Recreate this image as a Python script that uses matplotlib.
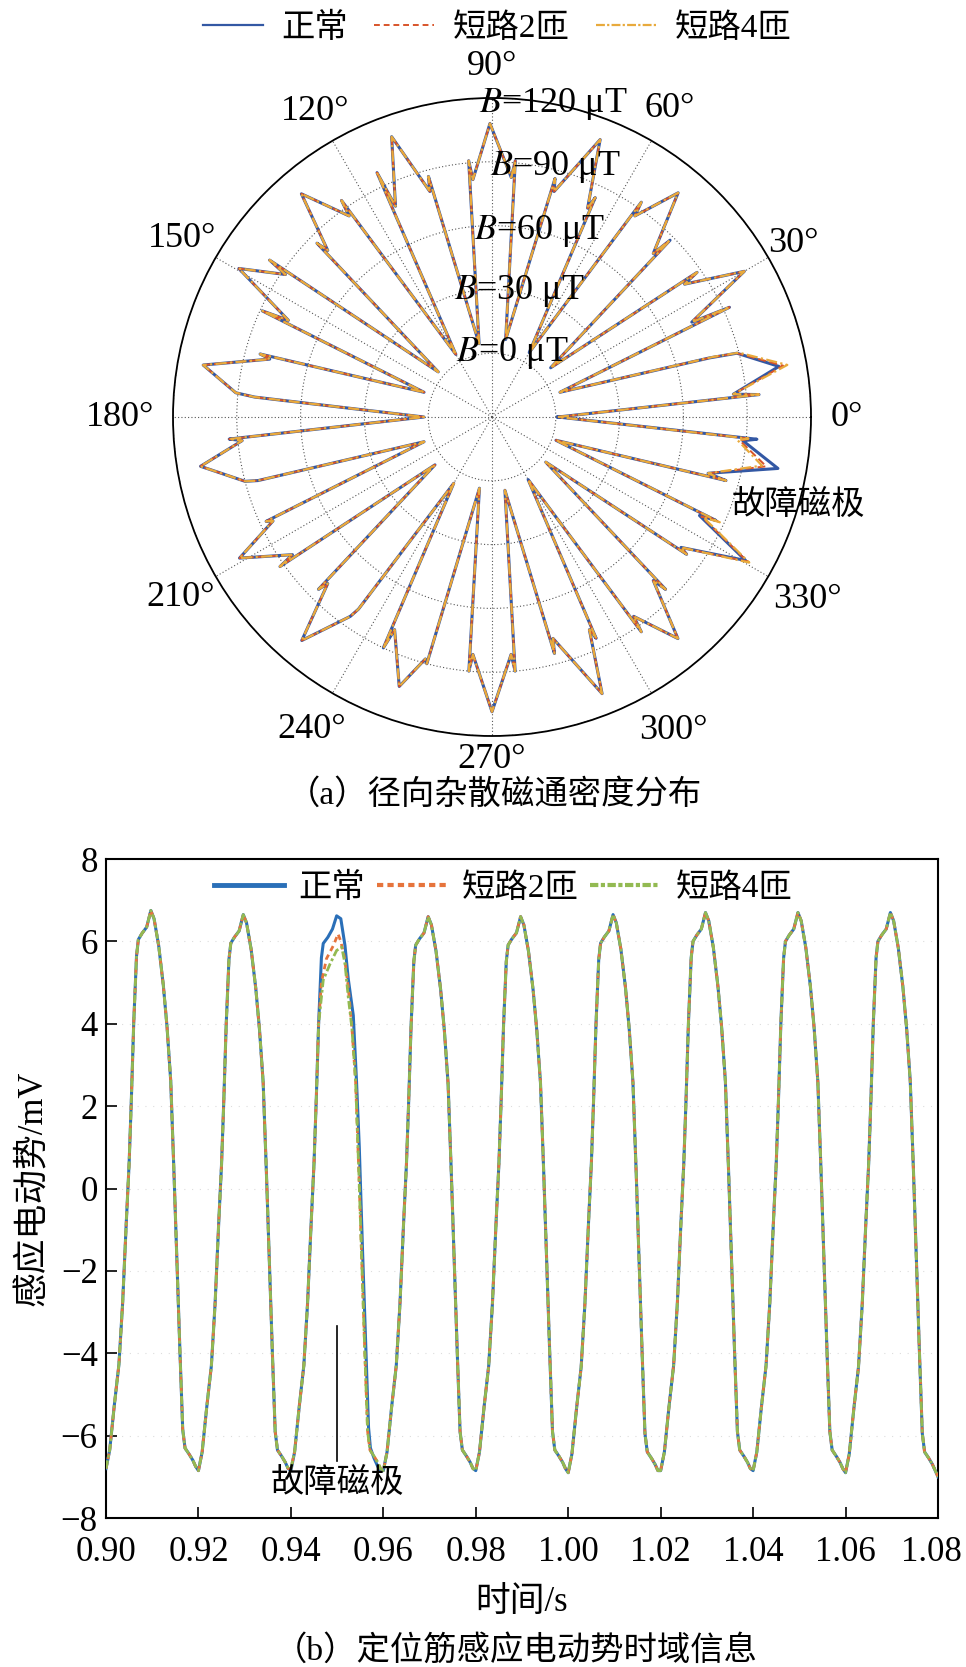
import numpy as np
import matplotlib
matplotlib.use('Agg')
import matplotlib.pyplot as plt
from matplotlib.lines import Line2D
from matplotlib.transforms import ScaledTranslation

plt.rcParams['font.family'] = ['Liberation Serif', 'Noto Sans CJK SC']
plt.rcParams['mathtext.fontset'] = 'stix'
plt.rcParams['axes.unicode_minus'] = True

# ---------------- data: (a) radial stray flux density (μT) ----------------
series_names = ['正常', '短路2匝', '短路4匝']
petal_center = [10, 30, 50, 70, 90, 110, 130, 150, 170, 190, 210, 230, 250, 270, 290, 310, 330, 350]
valley_B = [1, 4, 6, 5, 7, 5, 4, 3, 4, 2, 4, 5, 6, 4, 5, 4, 3, 2]
shoulder_a = [96, 93, 88, 84, 91, 87, 94, 98, 83, 94, 87, 85, 90, 90, 85, 93, 82, 84]
notch_a = [84, 74, 78, 78, 83, 80, 86, 88, 78, 88, 84, 80, 80, 82, 78, 85, 78, 75]
tip_offset = [0, 0, 0.3, -1.3, 0.4, -0.3, 0.5, -0.4, -0.2, -0.4, -0.8, -0.4, 1.0, 0, 1.7, 0, 0.5, -0.2]
peak_normal = [107, 107, 107, 110, 108, 110, 108, 108, 108, 109, 106, 108, 104, 108.6, 110, 106, 107, 106.6]
peak_short2 = [109, 107, 107, 110, 108, 110, 108, 108, 108, 109, 106, 108, 104, 108.6, 110, 106, 108, 101]
peak_short4 = [111, 107, 107, 110, 108, 110, 108, 108, 108, 109, 106, 108, 104, 108.6, 110, 106, 109, 99]
notch_b_normal = [89, 80, 86, 80, 82, 79, 80, 76, 91, 90, 84, 85, 88, 82, 80, 78, 78, 88.5]
notch_b_short2 = [89, 80, 86, 80, 82, 79, 80, 76, 91, 90, 84, 85, 88, 82, 80, 78, 79, 87]
notch_b_short4 = [90, 80, 86, 80, 82, 79, 80, 76, 91, 90, 84, 85, 88, 82, 80, 78, 80, 86]
shoulder_b_normal = [76, 88, 93, 86, 91, 97, 86, 89, 82, 84, 92, 80, 90, 90, 85, 85, 86, 95]
shoulder_b_short2 = [77, 88, 93, 86, 91, 97, 86, 89, 82, 84, 92, 80, 90, 90, 85, 85, 87, 92]
shoulder_b_short4 = [78, 88, 93, 86, 91, 97, 86, 89, 82, 84, 92, 80, 90, 90, 85, 85, 88, 91]
ring_values = [0, 30, 60, 90, 120]
ring_labels = ['$B$=0 μT', '$B$=30 μT', '$B$=60 μT', '$B$=90 μT', '$B$=120 μT']
angle_ticks = [0, 30, 60, 90, 120, 150, 180, 210, 240, 270, 300, 330]

# ---------------- data: (b) induced EMF (mV) ----------------
t_first = 0.90
n_periods = 9
period_len = 0.02
tpl_phase = [0.0000, 0.0008, 0.0018, 0.0028, 0.0036, 0.0044, 0.0050, 0.0055, 0.0060,
             0.0066, 0.0070, 0.0078, 0.0088, 0.0097, 0.0104, 0.0114, 0.0124, 0.0132,
             0.0140, 0.0147, 0.0154, 0.0160, 0.0166, 0.0171, 0.0180, 0.0188, 0.0194]
tpl_value = [-6.85, -6.4, -5.3, -4.3, -2.8, -0.8, 0.6, 2.2, 4.0,
             5.6, 6.0, 6.15, 6.3, 6.7, 6.5, 5.85, 4.9, 3.9,
             2.6, 0.4, -2.0, -4.0, -5.9, -6.35, -6.5, -6.65, -6.8]
peak_blue = [6.75, 6.65, 6.6, 6.6, 6.6, 6.65, 6.7, 6.7, 6.7]
peak_red = [6.75, 6.65, 6.15, 6.6, 6.6, 6.65, 6.7, 6.7, 6.7]
peak_green = [6.75, 6.65, 5.9, 6.6, 6.6, 6.65, 6.7, 6.7, 6.7]
trough_vals = [-6.8, -6.85, -6.85, -6.85, -6.85, -6.9, -6.85, -6.85, -6.9]
end_value = -7.0
fault_period = 2
fault_phase_blue = [0.0000, 0.0008, 0.0018, 0.0028, 0.0036, 0.0044, 0.0050, 0.0055, 0.0060,
                    0.0066, 0.0070, 0.0080, 0.0090, 0.0099, 0.0108, 0.0117, 0.0124, 0.0135,
                    0.0142, 0.0148, 0.0155, 0.0162, 0.0168, 0.0172, 0.0180, 0.0188, 0.0194]
fault_value_blue = [-6.85, -6.4, -5.3, -4.3, -2.8, -0.8, 0.6, 2.2, 4.0,
                    5.6, 5.95, 6.1, 6.3, 6.62, 6.55, 5.9, 5.1, 4.2,
                    2.6, 1.0, -1.5, -3.8, -5.8, -6.3, -6.55, -6.75, -6.85]
fault_phase_red = [0.0000, 0.0008, 0.0018, 0.0028, 0.0036, 0.0044, 0.0050, 0.0055, 0.0060,
                   0.0066, 0.0077, 0.0092, 0.0102, 0.0108, 0.0116, 0.0124, 0.0132, 0.0140,
                   0.0147, 0.0154, 0.0160, 0.0166, 0.0171, 0.0180, 0.0188, 0.0194]
fault_value_red = [-6.8, -6.4, -5.3, -4.3, -2.8, -0.8, 0.6, 2.2, 4.0,
                   5.0, 5.58, 5.9, 6.18, 6.0, 5.6, 4.9, 3.9, 2.6,
                   0.4, -2.0, -4.0, -5.9, -6.35, -6.5, -6.65, -6.8]
fault_phase_green = [0.0000, 0.0008, 0.0018, 0.0028, 0.0036, 0.0044, 0.0050, 0.0055, 0.0060,
                     0.0070, 0.0085, 0.0099, 0.0110, 0.0117, 0.0124, 0.0132, 0.0140,
                     0.0147, 0.0154, 0.0160, 0.0166, 0.0171, 0.0180, 0.0188, 0.0194]
fault_value_green = [-6.8, -6.4, -5.3, -4.3, -2.8, -0.8, 0.6, 2.2, 4.0,
                     5.06, 5.46, 5.78, 5.86, 5.46, 4.66, 3.9, 2.6,
                     0.4, -2.0, -4.0, -5.9, -6.35, -6.5, -6.65, -6.8]
x_ticks = [0.90, 0.92, 0.94, 0.96, 0.98, 1.00, 1.02, 1.04, 1.06, 1.08]
y_ticks = [-8, -6, -4, -2, 0, 2, 4, 6, 8]

# ---------------- helpers ----------------
def petal_curve(peaks, notch_b, shoulder_b):
    th, rr = [], []
    for i, c in enumerate(petal_center):
        th += [c - 10, c - 5.2, c - 4.6, c + tip_offset[i], c + 4.6, c + 5.2]
        rr += [valley_B[i], shoulder_a[i], notch_a[i], peaks[i], notch_b[i], shoulder_b[i]]
    th.append(360)
    rr.append(valley_B[0])
    return np.deg2rad(th), np.array(rr)


def emf_curve(peaks, f_phase, f_value):
    tt, vv = [], []
    pos_ref = max(tpl_value)
    neg_ref = -min(tpl_value)
    for k in range(n_periods):
        t0 = t_first + k * period_len
        if k == fault_period:
            tt += [t0 + p for p in f_phase]
            vv += list(f_value)
            continue
        for p, v in zip(tpl_phase, tpl_value):
            tt.append(t0 + p)
            vv.append(v * peaks[k] / pos_ref if v > 0 else v * (-trough_vals[k]) / neg_ref)
    tt.append(t_first + n_periods * period_len)
    vv.append(end_value)
    return np.array(tt), np.array(vv)


W, H = 966, 1667
fig = plt.figure(figsize=(W / 100, H / 100), dpi=100)

# ---------------- (a) polar ----------------
cx, cy, R = 492, 417, 319
r_min, r_max = -30, 120
axp = fig.add_axes([(cx - R) / W, (H - cy - R) / H, 2 * R / W, 2 * R / H], projection='polar')
axp.set_ylim(r_min, r_max)
axp.set_yticks(ring_values)
axp.set_yticklabels([])
axp.set_thetagrids(angle_ticks, labels=[''] * len(angle_ticks))
axp.grid(True, linestyle=(0, (1, 2)), color='#555555', linewidth=0.8)
axp.spines['polar'].set_linewidth(1.3)

# angle labels placed by hand (distance of label centre from the pole, in pixels)
label_radius_px = [355, 348, 356, 351, 353, 358, 372, 360, 361, 342, 362, 364]
for a, rp in zip(angle_ticks, label_radius_px):
    axp.text(np.deg2rad(a), r_min + rp / R * (r_max - r_min), f'{a}°',
             ha='center', va='center', fontsize=26, clip_on=False)

polar_colors = ['#3358a4', '#d8542a', '#e8aa3c']
th, rr = petal_curve(peak_normal, notch_b_normal, shoulder_b_normal)
axp.plot(th, rr, color=polar_colors[0], lw=2.2, zorder=3)
th, rr = petal_curve(peak_short2, notch_b_short2, shoulder_b_short2)
axp.plot(th, rr, color=polar_colors[1], lw=1.4, ls=(0, (4, 2)), zorder=4)
th, rr = petal_curve(peak_short4, notch_b_short4, shoulder_b_short4)
axp.plot(th, rr, color=polar_colors[2], lw=1.6, ls=(0, (5, 1.5, 1, 1.5)), zorder=5)

label_dx = [20, 27, 47, 63, 61]
label_dy = [0, -2, -5, -5, -6]
for rv, lab, dx, dy in zip(ring_values, ring_labels, label_dx, label_dy):
    axp.annotate(lab, xy=(np.pi / 2, rv), xytext=(dx * 0.72, dy * 0.72), textcoords='offset points',
                 ha='center', va='center', fontsize=26, zorder=10)

fig.text(798 / W, 1 - 505 / H, '故障磁极', ha='center', va='center', fontsize=24)
fig.text(494 / W, 1 - 795 / H, '（a）径向杂散磁通密度分布', ha='center', va='center', fontsize=24)

handles_a = [Line2D([], [], color=polar_colors[0], lw=1.6),
             Line2D([], [], color=polar_colors[1], lw=1.4, ls=(0, (3, 2))),
             Line2D([], [], color=polar_colors[2], lw=1.6, ls=(0, (4, 1, 1, 1)))]
fig.legend(handles_a, series_names, loc='center', bbox_to_anchor=(0.5145, 1 - 28 / H), ncol=3,
           frameon=False, fontsize=24, handlelength=1.8, handletextpad=0.55, columnspacing=0.8)

# ---------------- (b) time domain ----------------
axl, axr, axt, axb = 106, 938, 859, 1518
ax = fig.add_axes([axl / W, (H - axb) / H, (axr - axl) / W, (axb - axt) / H])
line_colors = ['#2a6fb8', '#e6743c', '#93ba52']
t, v = emf_curve(peak_blue, fault_phase_blue, fault_value_blue)
ax.plot(t, v, color=line_colors[0], lw=2.2, zorder=3)
t, v = emf_curve(peak_red, fault_phase_red, fault_value_red)
ax.plot(t, v, color=line_colors[1], lw=2.0, ls=(0, (2, 1.5)), zorder=4)
t, v = emf_curve(peak_green, fault_phase_green, fault_value_green)
ax.plot(t, v, color=line_colors[2], lw=2.0, ls=(0, (3, 1, 1, 1)), zorder=5)

ax.set_xlim(0.90, 1.08)
ax.set_ylim(-8, 8)
ax.set_xticks(x_ticks)
ax.set_xticklabels([f'{x:.2f}' for x in x_ticks])
ax.set_yticks(y_ticks)
ax.set_yticklabels([f'{y}'.replace('-', '\u2212') for y in y_ticks])
ax.tick_params(direction='in', length=8, width=1.2, labelsize=25, top=False, right=False)
ax.tick_params(axis='x', pad=13)
ax.tick_params(axis='y', pad=6)
last = ax.get_xticklabels()[-1]
last.set_transform(last.get_transform() + ScaledTranslation(-5 / 72, 0, fig.dpi_scale_trans))
for s in ax.spines.values():
    s.set_linewidth(1.5)
ax.grid(True, axis='y', linestyle=(0, (1, 6)), color='#dddddd', linewidth=0.8)
ax.set_axisbelow(True)

ax.set_xlabel('时间/s', fontsize=25, labelpad=12)
ax.set_ylabel('感应电动势/mV', fontsize=25)
ax.yaxis.set_label_coords((50 - axl) / (axr - axl), 0.5)

ax.plot([0.95, 0.95], [-6.62, -3.34], color='k', lw=1.2, zorder=6)
ax.text(0.95, -7.15, '故障磁极', ha='center', va='center', fontsize=24, zorder=7)

handles_b = [Line2D([], [], color=line_colors[0], lw=3.5),
             Line2D([], [], color=line_colors[1], lw=3.0, ls=(0, (1.5, 1))),
             Line2D([], [], color=line_colors[2], lw=3.0, ls=(0, (2, 0.6, 1, 0.6)))]
ax.legend(handles_b, series_names, loc='center', bbox_to_anchor=(0.477, (axb - 888) / (axb - axt)),
          ncol=3, frameon=False, fontsize=24, handlelength=2.1, handletextpad=0.45,
          columnspacing=0.35)

fig.text(516 / W, 1 - 1651 / H, '（b）定位筋感应电动势时域信息', ha='center', va='center', fontsize=24)

fig.savefig('out.png', dpi=100)
